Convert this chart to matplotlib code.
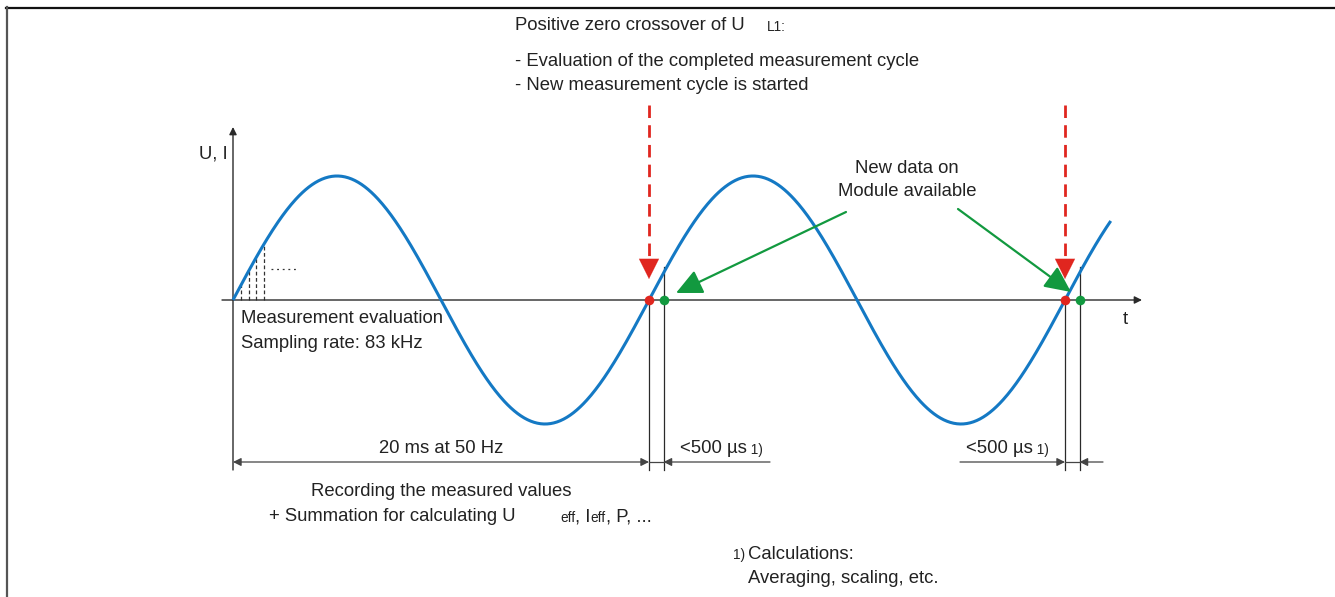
import numpy as np
import matplotlib
matplotlib.use("Agg")
import matplotlib.pyplot as plt
from matplotlib.lines import Line2D

# ---------------- data ----------------
frequency_hz = 50            # mains frequency of the signal
amplitude = 1.0              # normalised amplitude of U
t_end_ms = 42.2              # where the drawn waveform stops
zero_crossings_ms = [20.0, 40.0]          # positive zero crossovers of U_L1
data_available_ms = [20.7, 40.7]          # new data on module (<500 us later)
sample_times_ms = [0.38, 0.77, 1.12, 1.48]  # illustrated sampling instants

# ---------------- layout helpers (pixel layout of the drawing) ----------------
W, H = 1335, 597
X0, Y0 = 233.0, 300.0          # origin of the t / U axes in pixels
PX_MS = 20.8                   # pixels per millisecond
PX_AMP = 124.0                 # pixels per unit amplitude

def P(x, y):
    """pixel (from top-left) -> data coordinates"""
    return ((x - X0) / PX_MS, (Y0 - y) / PX_AMP)

def PT(x, y):
    """pixel position for a text centre (small correction for the text bbox)"""
    return P(x, y + 1.5)

plt.rcParams['font.family'] = ['Liberation Sans', 'DejaVu Sans']
FS = 13.3
FS_SMALL = 9.8
TXT = '#222222'
LINE = '#2a2a2a'
DIMC = '#444444'
BLUE = '#1479c4'
RED = '#e0261f'
GREEN = '#12993f'

fig = plt.figure(figsize=(W / 100, H / 100), dpi=100)
ax = fig.add_axes([0, 0, 1, 1])
ax.set_xlim(P(0, 0)[0], P(W, 0)[0])
ax.set_ylim(P(0, H)[1], P(0, 0)[1])
ax.axis('off')

# frame (top and left border)
fig.add_artist(Line2D([6 / W, 1], [1 - 7.5 / H, 1 - 7.5 / H], color='#111111', lw=1.6,
                      transform=fig.transFigure))
fig.add_artist(Line2D([6.5 / W, 6.5 / W], [0, 1 - 7 / H], color='#555555', lw=1.6,
                      transform=fig.transFigure))

# ---------------- axes ----------------
def arrow(p_from, p_to, color=LINE, lw=1.0, ms=10, style='-|>', ls='-'):
    ax.annotate('', xy=P(*p_to), xytext=P(*p_from),
                arrowprops=dict(arrowstyle=style, color=color, lw=lw, ls=ls,
                                mutation_scale=ms, shrinkA=0, shrinkB=0))

arrow((222, Y0), (1142, Y0), lw=1.0, ms=11)        # t axis
arrow((X0, 470), (X0, 127), lw=1.0, ms=11)         # U, I axis
ax.text(*PT(228, 152), 'U, I', ha='right', va='center', fontsize=FS, color=TXT)
ax.text(*PT(1125, 318), 't', ha='center', va='center', fontsize=FS, color=TXT)

# ---------------- waveform ----------------
t = np.linspace(0, t_end_ms, 800)
u = amplitude * np.sin(2 * np.pi * frequency_hz * t / 1000.0)
ax.plot(t, u, color=BLUE, lw=2.2, solid_capstyle='butt', zorder=3)

# sampling illustration
for ts in sample_times_ms:
    us = amplitude * np.sin(2 * np.pi * frequency_hz * ts / 1000.0)
    ax.plot([ts, ts], [0, us], color='#333333', lw=0.9, ls=(0, (3, 2)), zorder=2)
ax.plot([P(271, 0)[0], P(298, 0)[0]], [P(0, 269)[1]] * 2, color='#333333', lw=0.9,
        ls=(0, (1.5, 3)))

ax.text(*PT(241, 317), 'Measurement evaluation', ha='left', va='center', fontsize=FS, color=TXT)
ax.text(*PT(241, 342), 'Sampling rate: 83 kHz', ha='left', va='center', fontsize=FS, color=TXT)

# ---------------- extension lines ----------------
y_dim_bottom = P(0, 470)[1]
y_ext_top = P(0, 267)[1]
for tz, td in zip(zero_crossings_ms, data_available_ms):
    ax.plot([tz, tz], [0, y_dim_bottom], color=LINE, lw=0.9, zorder=1)
    ax.plot([td, td], [y_ext_top, y_dim_bottom], color=LINE, lw=0.9, zorder=1)

# ---------------- dimension lines ----------------
y_dim = P(0, 462)[1]
def dim(x_from, x_to, style='-|>'):
    ax.annotate('', xy=(x_to, y_dim), xytext=(x_from, y_dim),
                arrowprops=dict(arrowstyle=style, color=DIMC, lw=0.9,
                                mutation_scale=12, shrinkA=0, shrinkB=0))

dim(0.0, zero_crossings_ms[0], style='<|-|>')
ax.plot([zero_crossings_ms[0], data_available_ms[0]], [y_dim, y_dim], color=DIMC, lw=0.9)
dim(P(770, 0)[0], data_available_ms[0])
dim(P(960, 0)[0], zero_crossings_ms[1])
ax.plot([zero_crossings_ms[1], data_available_ms[1]], [y_dim, y_dim], color=DIMC, lw=0.9)
dim(P(1103, 0)[0], data_available_ms[1])

ax.text(*PT(441, 447), '20 ms at 50 Hz', ha='center', va='center', fontsize=FS, color=TXT)
for xl in (680, 966):
    txt = ax.text(*PT(xl, 447), '<500 µs', ha='left', va='center', fontsize=FS, color=TXT)
    ax.annotate(' 1)', xy=(1, 0.5), xycoords=txt, xytext=(0, -1), textcoords='offset points',
                ha='left', va='center', fontsize=FS_SMALL, color=TXT)

# ---------------- red "zero crossover" arrows ----------------
for tz in zero_crossings_ms:
    ax.plot([tz, tz], [P(0, 105)[1], P(0, 268)[1]], color=RED, lw=2.0,
            ls=(0, (4.5, 2.6)), zorder=4)
    ax.annotate('', xy=(tz, P(0, 279)[1]), xytext=(tz, P(0, 264)[1]),
                arrowprops=dict(arrowstyle='-|>,head_length=0.9,head_width=0.45',
                                color=RED, lw=0.1, mutation_scale=16,
                                shrinkA=0, shrinkB=0), zorder=4)

# ---------------- green "new data" arrows ----------------
arrow((846, 212), (676, 293), color=GREEN, lw=1.6, ms=20,
      style='-|>,head_length=0.8,head_width=0.38')
arrow((958, 209), (1071, 292), color=GREEN, lw=1.6, ms=20,
      style='-|>,head_length=0.8,head_width=0.38')
ax.text(*PT(907, 167), 'New data on', ha='center', va='center', fontsize=FS, color=TXT)
ax.text(*PT(907, 190), 'Module available', ha='center', va='center', fontsize=FS, color=TXT)

# ---------------- dots ----------------
ax.scatter(zero_crossings_ms, [0, 0], s=48, color=RED, zorder=6, linewidths=0)
ax.scatter(data_available_ms, [0, 0], s=48, color=GREEN, zorder=6, linewidths=0)

# ---------------- header text ----------------
t1 = ax.text(*PT(515, 24), 'Positive zero crossover of U', ha='left', va='center',
             fontsize=FS, color=TXT)
ax.annotate('L1:', xy=(1, 0.5), xycoords=t1, xytext=(16, -1), textcoords='offset points',
            ha='left', va='center', fontsize=FS_SMALL, color=TXT)
ax.text(*PT(515, 60), '- Evaluation of the completed measurement cycle', ha='left',
        va='center', fontsize=FS, color=TXT)
ax.text(*PT(515, 84), '- New measurement cycle is started', ha='left', va='center',
        fontsize=FS, color=TXT)

# ---------------- bottom text ----------------
ax.text(*PT(441, 490), 'Recording the measured values', ha='center', va='center',
        fontsize=FS, color=TXT)
s1 = ax.text(*PT(269, 515), '+ Summation for calculating U', ha='left', va='center',
             fontsize=FS, color=TXT)
s2 = ax.annotate('eff', xy=(1, 0.5), xycoords=s1, xytext=(32, -1), textcoords='offset points',
                 ha='left', va='center', fontsize=FS_SMALL, color=TXT)
s3 = ax.annotate(', I', xy=(1, 0.5), xycoords=s2, xytext=(0, 1), textcoords='offset points',
                 ha='left', va='center', fontsize=FS, color=TXT)
s4 = ax.annotate('eff', xy=(1, 0.5), xycoords=s3, xytext=(0, -1), textcoords='offset points',
                 ha='left', va='center', fontsize=FS_SMALL, color=TXT)
ax.annotate(', P, ...', xy=(1, 0.5), xycoords=s4, xytext=(0, 1), textcoords='offset points',
            ha='left', va='center', fontsize=FS, color=TXT)

ax.text(*PT(745, 553), '1)', ha='right', va='center', fontsize=FS_SMALL, color=TXT)
ax.text(*PT(748, 553), 'Calculations:', ha='left', va='center', fontsize=FS, color=TXT)
ax.text(*PT(748, 577), 'Averaging, scaling, etc.', ha='left', va='center', fontsize=FS, color=TXT)

fig.savefig('out.png', dpi=100)
